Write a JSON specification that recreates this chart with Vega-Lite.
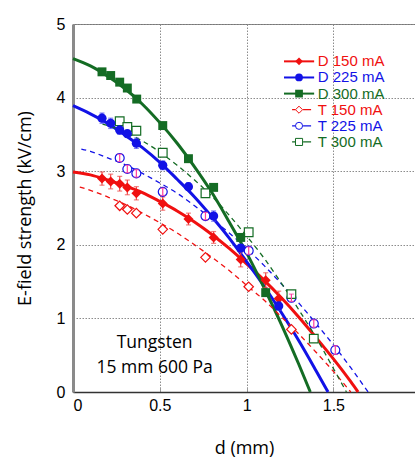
{
  "$schema": "https://vega.github.io/schema/vega-lite/v6.json",
  "autosize": "none",
  "width": 342,
  "height": 368,
  "padding": {"left": 73, "top": 24, "right": 0, "bottom": 65},
  "background": "white",
  "config": {
    "view": {"stroke": "#777777", "strokeWidth": 1},
    "axis": {
      "labelFont": "Liberation Sans", "labelFontSize": 16, "labelColor": "black",
      "titleFont": "Open Sans", "titleFontSize": 18, "titleFontWeight": "normal", "titleColor": "black",
      "gridColor": "#8c8c8c", "gridDash": [1.5, 1.5], "gridWidth": 1
    }
  },
  "datasets": {
    "ptsD": [
      {"series": "D 150 mA", "d": 0.167, "E": 2.90, "err": 0.09},
      {"series": "D 150 mA", "d": 0.217, "E": 2.86, "err": 0.10},
      {"series": "D 150 mA", "d": 0.269, "E": 2.83, "err": 0.10},
      {"series": "D 150 mA", "d": 0.313, "E": 2.78, "err": 0.10},
      {"series": "D 150 mA", "d": 0.365, "E": 2.70, "err": 0.09},
      {"series": "D 150 mA", "d": 0.517, "E": 2.56, "err": 0.09},
      {"series": "D 150 mA", "d": 0.665, "E": 2.35, "err": 0.08},
      {"series": "D 150 mA", "d": 0.810, "E": 2.10, "err": 0.08},
      {"series": "D 150 mA", "d": 0.966, "E": 1.80, "err": 0.10},
      {"series": "D 150 mA", "d": 1.110, "E": 1.52, "err": 0.10},
      {"series": "D 150 mA", "d": 1.185, "E": 1.27, "err": 0.10},
      {"series": "D 225 mA", "d": 0.167, "E": 3.72, "err": 0.07},
      {"series": "D 225 mA", "d": 0.217, "E": 3.65, "err": 0.07},
      {"series": "D 225 mA", "d": 0.269, "E": 3.56, "err": 0.06},
      {"series": "D 225 mA", "d": 0.313, "E": 3.51, "err": 0.05},
      {"series": "D 225 mA", "d": 0.365, "E": 3.38, "err": 0.07},
      {"series": "D 225 mA", "d": 0.517, "E": 3.08, "err": 0.06},
      {"series": "D 225 mA", "d": 0.665, "E": 2.79, "err": 0.05},
      {"series": "D 225 mA", "d": 0.810, "E": 2.39, "err": 0.07},
      {"series": "D 225 mA", "d": 0.966, "E": 1.955, "err": 0.05},
      {"series": "D 225 mA", "d": 1.185, "E": 1.17, "err": 0.06},
      {"series": "D 300 mA", "d": 0.167, "E": 4.35, "err": 0},
      {"series": "D 300 mA", "d": 0.217, "E": 4.30, "err": 0},
      {"series": "D 300 mA", "d": 0.269, "E": 4.21, "err": 0},
      {"series": "D 300 mA", "d": 0.313, "E": 4.13, "err": 0},
      {"series": "D 300 mA", "d": 0.367, "E": 3.98, "err": 0},
      {"series": "D 300 mA", "d": 0.517, "E": 3.62, "err": 0},
      {"series": "D 300 mA", "d": 0.665, "E": 3.17, "err": 0},
      {"series": "D 300 mA", "d": 0.810, "E": 2.78, "err": 0},
      {"series": "D 300 mA", "d": 0.966, "E": 2.10, "err": 0},
      {"series": "D 300 mA", "d": 1.110, "E": 1.35, "err": 0}
    ],
    "ptsT": [
      {"series": "T 150 mA", "d": 0.269, "E": 2.53, "err": 0},
      {"series": "T 150 mA", "d": 0.313, "E": 2.48, "err": 0},
      {"series": "T 150 mA", "d": 0.365, "E": 2.43, "err": 0},
      {"series": "T 150 mA", "d": 0.517, "E": 2.21, "err": 0},
      {"series": "T 150 mA", "d": 0.763, "E": 1.83, "err": 0},
      {"series": "T 150 mA", "d": 1.012, "E": 1.43, "err": 0},
      {"series": "T 150 mA", "d": 1.258, "E": 0.85, "err": 0},
      {"series": "T 225 mA", "d": 0.269, "E": 3.18, "err": 0.05},
      {"series": "T 225 mA", "d": 0.313, "E": 3.03, "err": 0.05},
      {"series": "T 225 mA", "d": 0.365, "E": 2.97, "err": 0.05},
      {"series": "T 225 mA", "d": 0.517, "E": 2.72, "err": 0.05},
      {"series": "T 225 mA", "d": 0.763, "E": 2.39, "err": 0.05},
      {"series": "T 225 mA", "d": 1.012, "E": 1.92, "err": 0.05},
      {"series": "T 225 mA", "d": 1.258, "E": 1.28, "err": 0.05},
      {"series": "T 225 mA", "d": 1.387, "E": 0.93, "err": 0.05},
      {"series": "T 225 mA", "d": 1.511, "E": 0.57, "err": 0.06},
      {"series": "T 300 mA", "d": 0.269, "E": 3.68, "err": 0},
      {"series": "T 300 mA", "d": 0.313, "E": 3.60, "err": 0},
      {"series": "T 300 mA", "d": 0.365, "E": 3.55, "err": 0},
      {"series": "T 300 mA", "d": 0.517, "E": 3.25, "err": 0},
      {"series": "T 300 mA", "d": 0.763, "E": 2.70, "err": 0},
      {"series": "T 300 mA", "d": 1.012, "E": 2.17, "err": 0},
      {"series": "T 300 mA", "d": 1.258, "E": 1.33, "err": 0},
      {"series": "T 300 mA", "d": 1.387, "E": 0.725, "err": 0}
    ],
    "fitD": [
      {"series": "D 150 mA", "d": 0, "E": 2.99}, {"series": "D 150 mA", "d": 0.1, "E": 2.95},
      {"series": "D 150 mA", "d": 0.2, "E": 2.88}, {"series": "D 150 mA", "d": 0.3, "E": 2.80},
      {"series": "D 150 mA", "d": 0.4, "E": 2.71}, {"series": "D 150 mA", "d": 0.5, "E": 2.59},
      {"series": "D 150 mA", "d": 0.6, "E": 2.46}, {"series": "D 150 mA", "d": 0.7, "E": 2.31},
      {"series": "D 150 mA", "d": 0.8, "E": 2.14}, {"series": "D 150 mA", "d": 0.9, "E": 1.95},
      {"series": "D 150 mA", "d": 1.0, "E": 1.74}, {"series": "D 150 mA", "d": 1.1, "E": 1.52},
      {"series": "D 150 mA", "d": 1.2, "E": 1.28}, {"series": "D 150 mA", "d": 1.3, "E": 1.02},
      {"series": "D 150 mA", "d": 1.4, "E": 0.74}, {"series": "D 150 mA", "d": 1.5, "E": 0.45},
      {"series": "D 150 mA", "d": 1.6, "E": 0.14}, {"series": "D 150 mA", "d": 1.642, "E": 0},
      {"series": "D 225 mA", "d": 0, "E": 3.89}, {"series": "D 225 mA", "d": 0.1, "E": 3.78},
      {"series": "D 225 mA", "d": 0.2, "E": 3.65}, {"series": "D 225 mA", "d": 0.3, "E": 3.49},
      {"series": "D 225 mA", "d": 0.4, "E": 3.32}, {"series": "D 225 mA", "d": 0.5, "E": 3.12},
      {"series": "D 225 mA", "d": 0.6, "E": 2.89}, {"series": "D 225 mA", "d": 0.7, "E": 2.65},
      {"series": "D 225 mA", "d": 0.8, "E": 2.38}, {"series": "D 225 mA", "d": 0.9, "E": 2.09},
      {"series": "D 225 mA", "d": 1.0, "E": 1.77}, {"series": "D 225 mA", "d": 1.1, "E": 1.44},
      {"series": "D 225 mA", "d": 1.2, "E": 1.08}, {"series": "D 225 mA", "d": 1.3, "E": 0.70},
      {"series": "D 225 mA", "d": 1.4, "E": 0.29}, {"series": "D 225 mA", "d": 1.469, "E": 0},
      {"series": "D 300 mA", "d": 0, "E": 4.53}, {"series": "D 300 mA", "d": 0.1, "E": 4.43},
      {"series": "D 300 mA", "d": 0.2, "E": 4.29}, {"series": "D 300 mA", "d": 0.3, "E": 4.12},
      {"series": "D 300 mA", "d": 0.4, "E": 3.91}, {"series": "D 300 mA", "d": 0.5, "E": 3.66},
      {"series": "D 300 mA", "d": 0.6, "E": 3.38}, {"series": "D 300 mA", "d": 0.7, "E": 3.06},
      {"series": "D 300 mA", "d": 0.8, "E": 2.71}, {"series": "D 300 mA", "d": 0.9, "E": 2.31},
      {"series": "D 300 mA", "d": 1.0, "E": 1.89}, {"series": "D 300 mA", "d": 1.1, "E": 1.42},
      {"series": "D 300 mA", "d": 1.2, "E": 0.92}, {"series": "D 300 mA", "d": 1.3, "E": 0.38},
      {"series": "D 300 mA", "d": 1.367, "E": 0}
    ],
    "fitT": [
      {"series": "T 150 mA", "d": 0.039, "E": 2.785}, {"series": "T 150 mA", "d": 0.1, "E": 2.74},
      {"series": "T 150 mA", "d": 0.2, "E": 2.65}, {"series": "T 150 mA", "d": 0.3, "E": 2.55},
      {"series": "T 150 mA", "d": 0.4, "E": 2.43}, {"series": "T 150 mA", "d": 0.5, "E": 2.30},
      {"series": "T 150 mA", "d": 0.6, "E": 2.16}, {"series": "T 150 mA", "d": 0.7, "E": 2.00},
      {"series": "T 150 mA", "d": 0.8, "E": 1.83}, {"series": "T 150 mA", "d": 0.9, "E": 1.65},
      {"series": "T 150 mA", "d": 1.0, "E": 1.45}, {"series": "T 150 mA", "d": 1.1, "E": 1.25},
      {"series": "T 150 mA", "d": 1.2, "E": 1.02}, {"series": "T 150 mA", "d": 1.3, "E": 0.79},
      {"series": "T 150 mA", "d": 1.4, "E": 0.54}, {"series": "T 150 mA", "d": 1.5, "E": 0.28},
      {"series": "T 150 mA", "d": 1.6, "E": 0},
      {"series": "T 225 mA", "d": 0.048, "E": 3.30}, {"series": "T 225 mA", "d": 0.1, "E": 3.27},
      {"series": "T 225 mA", "d": 0.2, "E": 3.18}, {"series": "T 225 mA", "d": 0.3, "E": 3.09},
      {"series": "T 225 mA", "d": 0.4, "E": 2.97}, {"series": "T 225 mA", "d": 0.5, "E": 2.84},
      {"series": "T 225 mA", "d": 0.6, "E": 2.70}, {"series": "T 225 mA", "d": 0.7, "E": 2.53},
      {"series": "T 225 mA", "d": 0.8, "E": 2.35}, {"series": "T 225 mA", "d": 0.9, "E": 2.16},
      {"series": "T 225 mA", "d": 1.0, "E": 1.95}, {"series": "T 225 mA", "d": 1.1, "E": 1.72},
      {"series": "T 225 mA", "d": 1.2, "E": 1.47}, {"series": "T 225 mA", "d": 1.3, "E": 1.21},
      {"series": "T 225 mA", "d": 1.4, "E": 0.93}, {"series": "T 225 mA", "d": 1.5, "E": 0.64},
      {"series": "T 225 mA", "d": 1.6, "E": 0.33}, {"series": "T 225 mA", "d": 1.70, "E": 0},
      {"series": "T 300 mA", "d": 0.17, "E": 3.64}, {"series": "T 300 mA", "d": 0.2, "E": 3.62},
      {"series": "T 300 mA", "d": 0.3, "E": 3.53}, {"series": "T 300 mA", "d": 0.4, "E": 3.41},
      {"series": "T 300 mA", "d": 0.5, "E": 3.26}, {"series": "T 300 mA", "d": 0.6, "E": 3.08},
      {"series": "T 300 mA", "d": 0.7, "E": 2.88}, {"series": "T 300 mA", "d": 0.8, "E": 2.66},
      {"series": "T 300 mA", "d": 0.9, "E": 2.40}, {"series": "T 300 mA", "d": 1.0, "E": 2.12},
      {"series": "T 300 mA", "d": 1.1, "E": 1.82}, {"series": "T 300 mA", "d": 1.2, "E": 1.48},
      {"series": "T 300 mA", "d": 1.3, "E": 1.12}, {"series": "T 300 mA", "d": 1.4, "E": 0.74},
      {"series": "T 300 mA", "d": 1.5, "E": 0.32}, {"series": "T 300 mA", "d": 1.575, "E": 0}
    ],
    "legendRows": [
      {"series": "D 150 mA"}, {"series": "D 225 mA"}, {"series": "D 300 mA"},
      {"series": "T 150 mA"}, {"series": "T 225 mA"}, {"series": "T 300 mA"}
    ]
  },
  "resolve": {"scale": {"y": "independent"}},
  "layer": [
    {
      "layer": [
        {
          "data": {"name": "fitD"},
          "mark": {"type": "line", "strokeWidth": 3, "interpolate": "monotone"},
          "encoding": {
            "x": {"field": "d", "type": "quantitative", "title": "d (mm)", "scale": {"domain": [0, 1.97], "nice": false},
              "axis": {"title": "d (mm)", "values": [0, 0.5, 1, 1.5], "format": "~g", "grid": true,
                "ticks": true, "tickSize": -5, "tickColor": "#999999", "labelPadding": 10,
                "domainColor": "#333333", "domainWidth": 1.5, "titlePadding": 26}},
            "y": {"field": "E", "type": "quantitative", "title": "E-field strength (kV/cm)", "scale": {"domain": [0, 5], "nice": false},
              "axis": {"title": "E-field strength (kV/cm)", "values": [0, 1, 2, 3, 4, 5], "format": "d", "grid": true,
                "ticks": false, "labelPadding": 8, "domainColor": "#8a8a8a", "domainWidth": 3, "titlePadding": 22}},
            "color": {"field": "series", "type": "nominal", "legend": null,
              "scale": {"domain": ["D 150 mA", "D 225 mA", "D 300 mA", "T 150 mA", "T 225 mA", "T 300 mA"],
                "range": ["#f01010", "#1212e6", "#146c24", "#f01010", "#1212e6", "#146c24"]}}
          }
        },
        {
          "data": {"name": "fitT"},
          "mark": {"type": "line", "strokeWidth": 1.3, "strokeDash": [5, 4], "interpolate": "monotone"},
          "encoding": {
            "x": {"field": "d", "type": "quantitative", "title": "d (mm)"},
            "y": {"field": "E", "type": "quantitative", "title": "E-field strength (kV/cm)"},
            "color": {"field": "series", "type": "nominal", "legend": null}
          }
        },
        {
          "data": {"name": "ptsD"},
          "transform": [{"filter": "datum.series == 'D 150 mA'"}],
          "mark": {"type": "errorbar", "ticks": true, "color": "#ee4a4a", "thickness": 1.2},
          "encoding": {
            "x": {"field": "d", "type": "quantitative", "title": "d (mm)"},
            "y": {"field": "E", "type": "quantitative", "title": "E-field strength (kV/cm)"},
            "yError": {"field": "err"}
          }
        },
        {
          "data": {"name": "ptsD"},
          "transform": [{"filter": "datum.series == 'D 225 mA'"}],
          "mark": {"type": "errorbar", "ticks": true, "color": "#5050f0", "thickness": 1.2},
          "encoding": {
            "x": {"field": "d", "type": "quantitative", "title": "d (mm)"},
            "y": {"field": "E", "type": "quantitative", "title": "E-field strength (kV/cm)"},
            "yError": {"field": "err"}
          }
        },
        {
          "data": {"name": "ptsT"},
          "transform": [{"filter": "datum.series == 'T 150 mA'"}],
          "mark": {"type": "point", "shape": "diamond", "filled": false, "fill": "white", "color": "#f01010", "size": 90, "strokeWidth": 1.2, "opacity": 1},
          "encoding": {
            "x": {"field": "d", "type": "quantitative", "title": "d (mm)"},
            "y": {"field": "E", "type": "quantitative", "title": "E-field strength (kV/cm)"}
          }
        },
        {
          "data": {"name": "ptsT"},
          "transform": [{"filter": "datum.series == 'T 225 mA'"}],
          "mark": {"type": "point", "shape": "circle", "filled": false, "fill": "white", "color": "#1212e6", "size": 80, "strokeWidth": 1.2, "opacity": 1},
          "encoding": {
            "x": {"field": "d", "type": "quantitative", "title": "d (mm)"},
            "y": {"field": "E", "type": "quantitative", "title": "E-field strength (kV/cm)"}
          }
        },
        {
          "data": {"name": "ptsT"},
          "transform": [{"filter": "datum.series == 'T 300 mA'"}],
          "mark": {"type": "point", "shape": "square", "filled": false, "fill": "white", "color": "#146c24", "size": 75, "strokeWidth": 1.2, "opacity": 1},
          "encoding": {
            "x": {"field": "d", "type": "quantitative", "title": "d (mm)"},
            "y": {"field": "E", "type": "quantitative", "title": "E-field strength (kV/cm)"}
          }
        },
        {
          "data": {"name": "ptsT"},
          "transform": [{"filter": "datum.series == 'T 225 mA'"}],
          "mark": {"type": "errorbar", "ticks": true, "color": "#ff3fa0", "thickness": 1.2},
          "encoding": {
            "x": {"field": "d", "type": "quantitative", "title": "d (mm)"},
            "y": {"field": "E", "type": "quantitative", "title": "E-field strength (kV/cm)"},
            "yError": {"field": "err"}
          }
        },
        {
          "data": {"name": "ptsD"},
          "transform": [{"filter": "datum.series == 'D 150 mA'"}],
          "mark": {"type": "point", "shape": "diamond", "filled": true, "color": "#f01010", "size": 100, "opacity": 1},
          "encoding": {
            "x": {"field": "d", "type": "quantitative", "title": "d (mm)"},
            "y": {"field": "E", "type": "quantitative", "title": "E-field strength (kV/cm)"}
          }
        },
        {
          "data": {"name": "ptsD"},
          "transform": [{"filter": "datum.series == 'D 225 mA'"}],
          "mark": {"type": "point", "shape": "circle", "filled": true, "color": "#1212e6", "size": 85, "opacity": 1},
          "encoding": {
            "x": {"field": "d", "type": "quantitative", "title": "d (mm)"},
            "y": {"field": "E", "type": "quantitative", "title": "E-field strength (kV/cm)"}
          }
        },
        {
          "data": {"name": "ptsD"},
          "transform": [{"filter": "datum.series == 'D 300 mA'"}],
          "mark": {"type": "point", "shape": "square", "filled": true, "color": "#146c24", "size": 80, "opacity": 1},
          "encoding": {
            "x": {"field": "d", "type": "quantitative", "title": "d (mm)"},
            "y": {"field": "E", "type": "quantitative", "title": "E-field strength (kV/cm)"}
          }
        },
        {
          "data": {"values": [{"note": "Tungsten, 15 mm 600 Pa"}]},
          "mark": {"type": "text", "text": ["Tungsten", "15 mm 600 Pa"], "font": "Open Sans", "fontSize": 17.5,
            "lineHeight": 25, "align": "center", "baseline": "middle", "color": "black"},
          "encoding": {
            "x": {"datum": 0.47, "type": "quantitative"},
            "y": {"datum": 0.665, "type": "quantitative"}
          }
        }
      ]
    },
    {
      "data": {"name": "legendRows"},
      "encoding": {
        "y": {"field": "series", "type": "nominal", "axis": null,
          "scale": {"domain": ["D 150 mA", "D 225 mA", "D 300 mA", "T 150 mA", "T 225 mA", "T 300 mA"],
            "range": [29.3, 126], "padding": 0}},
        "color": {"field": "series", "type": "nominal", "legend": null}
      },
      "layer": [
        {
          "transform": [{"filter": "indexof(datum.series, 'D') == 0"}],
          "mark": {"type": "rule", "strokeWidth": 2},
          "encoding": {
            "x": {"datum": 1.2154, "type": "quantitative"},
            "x2": {"datum": 1.389}
          }
        },
        {
          "transform": [{"filter": "indexof(datum.series, 'T') == 0"}],
          "mark": {"type": "rule", "strokeWidth": 1.2, "strokeDash": [3.5, 7.5, 8, 100]},
          "encoding": {
            "x": {"datum": 1.262, "type": "quantitative"},
            "x2": {"datum": 1.377}
          }
        },
        {
          "transform": [{"filter": "indexof(datum.series, 'D') == 0"}],
          "mark": {"type": "point", "filled": true, "size": 60, "opacity": 1},
          "encoding": {
            "x": {"datum": 1.302, "type": "quantitative"},
            "shape": {"field": "series", "type": "nominal", "legend": null,
              "scale": {"domain": ["D 150 mA", "D 225 mA", "D 300 mA", "T 150 mA", "T 225 mA", "T 300 mA"],
                "range": ["diamond", "circle", "square", "diamond", "circle", "square"]}}
          }
        },
        {
          "transform": [{"filter": "indexof(datum.series, 'T') == 0"}],
          "mark": {"type": "point", "filled": false, "fill": "white", "size": 50, "strokeWidth": 1, "opacity": 1},
          "encoding": {
            "x": {"datum": 1.302, "type": "quantitative"},
            "shape": {"field": "series", "type": "nominal", "legend": null}
          }
        },
        {
          "mark": {"type": "text", "align": "left", "baseline": "middle", "font": "Liberation Sans", "fontSize": 15},
          "encoding": {
            "x": {"datum": 1.4096, "type": "quantitative"},
            "text": {"field": "series", "type": "nominal"}
          }
        }
      ]
    }
  ]
}
